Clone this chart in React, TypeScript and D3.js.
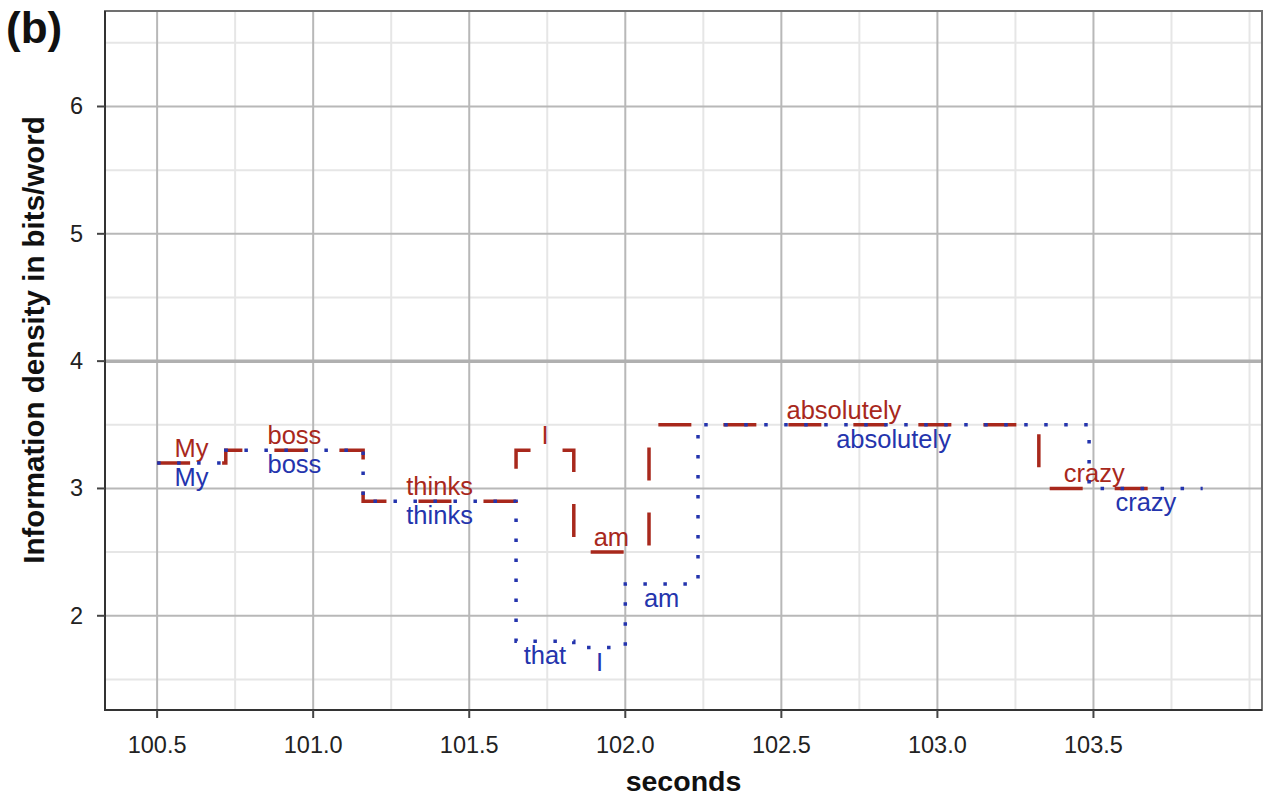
import React, { useEffect, useRef } from "react";
import * as d3 from "d3";

// word-by-word information density, two renderings of the same sentence
const redWords = ["My", "boss", "thinks", "I", "am", "absolutely", "crazy"];
const redStarts = [100.5, 100.72, 101.16, 101.65, 101.835, 102.076, 103.325];
const redEnd = 103.68;
const redValues = [3.2, 3.3, 2.9, 3.3, 2.5, 3.5, 3.0];

const blueWords = ["My", "boss", "thinks", "that", "I", "am", "absolutely", "crazy"];
const blueStarts = [100.5, 100.72, 101.16, 101.65, 101.835, 102.0, 102.233, 103.486];
const blueEnd = 103.85;
const blueValues = [3.2, 3.3, 2.9, 1.8, 1.75, 2.25, 3.5, 3.0];

const xTicks = [100.5, 101.0, 101.5, 102.0, 102.5, 103.0, 103.5];
const xMinor = [100.75, 101.25, 101.75, 102.25, 102.75, 103.25, 103.75, 104.0];
const yTicks = [2, 3, 4, 5, 6];
const yMinor = [1.5, 2.5, 3.5, 4.5, 5.5, 6.5];
const refLine = 4;

const RED = "#a8281c";
const BLUE = "#2434ad";

const App = () => {
  const svgRef = useRef<SVGSVGElement>(null);

  useEffect(() => {
    const svg = d3.select(svgRef.current);
    const width = 1265;
    const height = 798;
    const margin = { top: 11, right: 3, bottom: 88, left: 105 };
    const font = "'Liberation Sans', Arial, sans-serif";

    svg.selectAll("*").remove();

    const x = d3
      .scaleLinear()
      .domain([100.333, 104.04])
      .range([margin.left, width - margin.right]);
    const y = d3
      .scaleLinear()
      .domain([1.26, 6.75])
      .range([height - margin.bottom, margin.top]);

    const [x0, x1] = x.range();
    const [y0, y1] = y.range();

    // grid
    const grid = svg.append("g");
    grid
      .selectAll(".xminor")
      .data(xMinor)
      .enter()
      .append("line")
      .attr("x1", (d) => x(d))
      .attr("x2", (d) => x(d))
      .attr("y1", y1)
      .attr("y2", y0)
      .attr("stroke", "#e6e6e6")
      .attr("stroke-width", 2);
    grid
      .selectAll(".yminor")
      .data(yMinor)
      .enter()
      .append("line")
      .attr("x1", x0)
      .attr("x2", x1)
      .attr("y1", (d) => y(d))
      .attr("y2", (d) => y(d))
      .attr("stroke", "#e6e6e6")
      .attr("stroke-width", 2);
    grid
      .selectAll(".xmajor")
      .data(xTicks)
      .enter()
      .append("line")
      .attr("x1", (d) => x(d))
      .attr("x2", (d) => x(d))
      .attr("y1", y1)
      .attr("y2", y0)
      .attr("stroke", "#b8b8b8")
      .attr("stroke-width", 2);
    grid
      .selectAll(".ymajor")
      .data(yTicks)
      .enter()
      .append("line")
      .attr("x1", x0)
      .attr("x2", x1)
      .attr("y1", (d) => y(d))
      .attr("y2", (d) => y(d))
      .attr("stroke", "#b8b8b8")
      .attr("stroke-width", 2);

    // reference line
    svg
      .append("line")
      .attr("x1", x0)
      .attr("x2", x1)
      .attr("y1", y(refLine))
      .attr("y2", y(refLine))
      .attr("stroke", "#b0b0b0")
      .attr("stroke-width", 3.5);

    // panel border
    svg
      .append("rect")
      .attr("x", x0)
      .attr("y", y1)
      .attr("width", x1 - x0)
      .attr("height", y0 - y1)
      .attr("fill", "none")
      .attr("stroke", "#707070")
      .attr("stroke-width", 2);
    svg
      .append("path")
      .attr("d", `M${x0},${y1}V${y0}H${x1}`)
      .attr("fill", "none")
      .attr("stroke", "#333")
      .attr("stroke-width", 2);

    // ticks and labels
    svg
      .selectAll(".xtick")
      .data(xTicks)
      .enter()
      .append("line")
      .attr("x1", (d) => x(d))
      .attr("x2", (d) => x(d))
      .attr("y1", y0)
      .attr("y2", y0 + 8)
      .attr("stroke", "#444")
      .attr("stroke-width", 2);
    svg
      .selectAll(".xlab")
      .data(xTicks)
      .enter()
      .append("text")
      .attr("x", (d) => x(d))
      .attr("y", y0 + 43)
      .attr("text-anchor", "middle")
      .attr("font-family", font)
      .attr("font-size", 23.5)
      .attr("fill", "#222")
      .text((d) => d3.format(".1f")(d));
    svg
      .selectAll(".ytick")
      .data(yTicks)
      .enter()
      .append("line")
      .attr("x1", x0 - 8)
      .attr("x2", x0)
      .attr("y1", (d) => y(d))
      .attr("y2", (d) => y(d))
      .attr("stroke", "#444")
      .attr("stroke-width", 2);
    svg
      .selectAll(".ylab")
      .data(yTicks)
      .enter()
      .append("text")
      .attr("x", x0 - 22)
      .attr("y", (d) => y(d) + 8)
      .attr("text-anchor", "end")
      .attr("font-family", font)
      .attr("font-size", 23.5)
      .attr("fill", "#222")
      .text((d) => d);

    // axis titles
    svg
      .append("text")
      .attr("x", (x0 + x1) / 2)
      .attr("y", 791)
      .attr("text-anchor", "middle")
      .attr("font-family", font)
      .attr("font-weight", "bold")
      .attr("font-size", 28.5)
      .attr("fill", "#111")
      .text("seconds");
    svg
      .append("text")
      .attr("transform", `translate(44, 340) rotate(-90)`)
      .attr("text-anchor", "middle")
      .attr("font-family", font)
      .attr("font-weight", "bold")
      .attr("font-size", 29.5)
      .attr("fill", "#111")
      .text("Information density in bits/word");
    svg
      .append("text")
      .attr("x", 6)
      .attr("y", 43)
      .attr("font-family", font)
      .attr("font-weight", "bold")
      .attr("font-size", 44)
      .attr("fill", "#111")
      .text("(b)");

    // step lines
    const step = d3
      .line<[number, number]>()
      .x((d) => x(d[0]))
      .y((d) => y(d[1]))
      .curve(d3.curveStepAfter);

    const series = [
      { words: redWords, starts: redStarts, end: redEnd, values: redValues, color: RED, dash: "33,32", width: 3.5, above: true },
      { words: blueWords, starts: blueStarts, end: blueEnd, values: blueValues, color: BLUE, dash: "3.5,16.5", width: 3.5, above: false },
    ];

    series.forEach((s) => {
      const pts: [number, number][] = s.starts.map((t, i) => [t, s.values[i]]);
      pts.push([s.end, s.values[s.values.length - 1]]);
      svg
        .append("path")
        .attr("d", step(pts))
        .attr("fill", "none")
        .attr("stroke", s.color)
        .attr("stroke-width", s.width)
        .attr("stroke-dasharray", s.dash);

      const ends = s.starts.slice(1).concat([s.end]);
      svg
        .selectAll(null)
        .data(s.words)
        .enter()
        .append("text")
        .attr("x", (d, i) => (x(s.starts[i]) + x(ends[i])) / 2)
        .attr("y", (d, i) => y(s.values[i]) + (s.above ? -6 : 23))
        .attr("text-anchor", "middle")
        .attr("font-family", font)
        .attr("font-size", 25.5)
        .attr("fill", s.color)
        .text((d) => d);
    });
  }, []);

  return (
    <div style={{ position: "absolute", left: 0, top: 0 }}>
      <svg ref={svgRef} width={1265} height={798} style={{ display: "block" }}></svg>
    </div>
  );
};

export default App;
